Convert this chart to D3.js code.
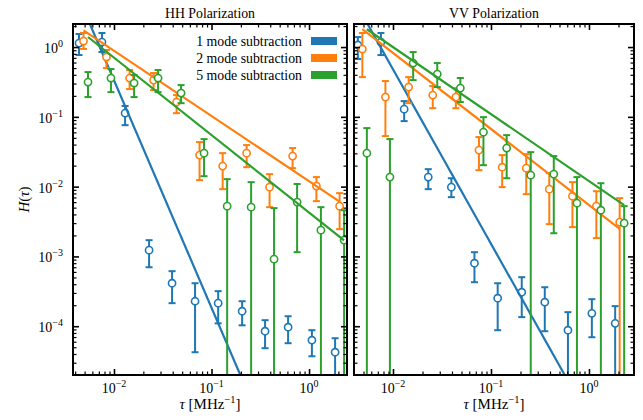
<!DOCTYPE html>
<html>
<head>
<meta charset="utf-8">
<script src="https://cdn.jsdelivr.net/npm/d3@7"></script>
<style>
  body { margin: 0; background: #fff; }
  text { font-family: "Liberation Serif", "Times New Roman", serif; fill: #000; }
</style>
</head>
<body>
<svg id="chart" width="643" height="420"></svg>
<script>
// delay bins [MHz^-1]
const tau = [0.00438, 0.00753, 0.0130, 0.0229, 0.0394, 0.0678, 0.117, 0.206, 0.354, 0.610, 1.07, 1.85];

const FLOOR = 1e-7; // error bars that run off the bottom

// HH polarization
const hhOne   = [1.14, 1.18, 0.113, 0.00123, 4.13e-4, 2.28e-4, 2.14e-4, 1.64e-4, 8.48e-5, 9.68e-5, 6.30e-5, 4.24e-5];
const hhOneHi = [1.54, 1.59, 0.143, 0.00171, 6.15e-4, 4.13e-4, 3.18e-4, 2.28e-4, 1.22e-4, 1.39e-4, 8.77e-5, 6.73e-5];
const hhOneLo = [0.77, 0.85, 0.076, 0.00070, 2.14e-4, 4.24e-5, 1.10e-4, 1.03e-4, 4.84e-5, 5.71e-5, 3.71e-5, FLOOR];

const hhTwo   = [1.22, 0.72, 0.36, 0.336, 0.163, 0.0283, 0.0197, 0.0302, 0.00984, 0.0274, 0.0102, 0.00525];
const hhTwoHi = [1.59, 0.906, 0.468, 0.424, 0.205, 0.0435, 0.0302, 0.0394, 0.0151, 0.0357, 0.0137, 0.00807];
const hhTwoLo = [0.94, 0.50, 0.25, 0.242, 0.113, 0.0124, 0.0092, 0.019, 0.00508, 0.0184, 0.0062, 0.00246];

const hhFive   = [0.315, 0.36, 0.305, 0.36, 0.219, 0.0302, 0.00525, 0.00508, 9.14e-4, 0.0060, 0.00238, 0.00171];
const hhFiveHi = [0.438, 0.484, 0.397, 0.468, 0.285, 0.048, 0.0128, 0.0116, 0.00492, 0.0109, 0.00508, 0.0046];
const hhFiveLo = [0.192, 0.226, 0.192, 0.226, 0.157, 0.0141, FLOOR, FLOOR, FLOOR, 0.00115, FLOOR, FLOOR];

// VV polarization
const vvOne   = [1.07, 1.18, 0.129, 0.0137, 0.00984, 8.0e-4, 2.52e-4, 3.07e-4, 2.21e-4, 8.77e-5, 1.53e-4, 1.10e-4];
const vvOneHi = [1.39, 1.59, 0.168, 0.0178, 0.0132, 0.00115, 4.13e-4, 5.04e-4, 3.62e-4, 1.59e-4, 2.44e-4, 1.94e-4];
const vvOneLo = [0.673, 0.768, 0.0869, 0.0092, 0.00707, 4.27e-4, 8.77e-5, 1.35e-4, 8.48e-5, FLOOR, 6.95e-5, FLOOR];

const vvTwo   = [0.936, 0.192, 0.267, 0.205, 0.192, 0.0334, 0.019, 0.0184, 0.0092, 0.0073, 0.00525, 0.0031];
const vvTwoHi = [1.59, 0.326, 0.371, 0.276, 0.258, 0.0513, 0.0283, 0.0292, 0.0156, 0.0116, 0.0086, 0.00684];
const vvTwoLo = [0.371, 0.053, 0.157, 0.133, 0.133, 0.0172, 0.00984, 0.0078, 0.0029, 0.00263, 0.00183, FLOOR];

const vvFive   = [0.0302, 0.0137, 0.59, 0.41, 0.258, 0.0604, 0.0357, 0.0146, 0.0151, 0.0058, 0.0046, 0.0030];
const vvFiveHi = [0.069, 0.048, 0.848, 0.59, 0.36, 0.099, 0.0547, 0.0312, 0.0274, 0.0137, 0.0112, 0.00525];
const vvFiveLo = [FLOOR, FLOOR, 0.336, 0.267, 0.163, 0.0203, 0.0132, FLOOR, 0.00215, FLOOR, FLOOR, FLOOR];

// power-law fits H = amp * tau^index, for 1, 2, 5 modes
const hhFitAmp   = [1.01e-7, 0.01084, 0.00336];
const hhFitIndex = [-3.26, -0.934, -1.11];
const vvFitAmp   = [4.8e-6, 0.00485, 0.0098];
const vvFitIndex = [-2.5, -1.09, -0.96];

const modeLabels = ['1 mode subtraction', '2 mode subtraction', '5 mode subtraction'];
const colors = ['#1f77b4', '#ff7f0e', '#2ca02c'];
const dodge = [0, 4.5, 9];

const svg = d3.select('#chart');
const yTop = 24, yBottom = 375;
const y = d3.scaleLog().domain([2.0e-5, 2.14]).range([yBottom, yTop]);

const panels = [
  { title: 'HH Polarization', x0: 73, x1: 347, xlim: [0.0038, 2.45],
    mean: [hhOne, hhTwo, hhFive], hi: [hhOneHi, hhTwoHi, hhFiveHi], lo: [hhOneLo, hhTwoLo, hhFiveLo],
    amp: hhFitAmp, index: hhFitIndex, yLabels: true, legend: true },
  { title: 'VV Polarization', x0: 354, x1: 634, xlim: [0.0040, 2.88],
    mean: [vvOne, vvTwo, vvFive], hi: [vvOneHi, vvTwoHi, vvFiveHi], lo: [vvOneLo, vvTwoLo, vvFiveLo],
    amp: vvFitAmp, index: vvFitIndex, yLabels: false, legend: false }
];

function minorTicks(domain) {
  const out = [];
  for (let d = -6; d <= 1; d++)
    for (let k = 2; k <= 9; k++) {
      const v = k * Math.pow(10, d);
      if (v > domain[0] && v < domain[1]) out.push(v);
    }
  return out;
}

function powerLabel(sel, exp) {
  sel.text('10').append('tspan')
    .attr('dy', -6).attr('font-size', 10)
    .text(exp === 0 ? '0' : '\u2212' + (-exp));
}

panels.forEach((p, pi) => {
  const x = d3.scaleLog().domain(p.xlim).range([p.x0, p.x1]);
  const g = svg.append('g');
  const clipId = 'clip' + pi;
  svg.append('clipPath').attr('id', clipId)
    .append('rect').attr('x', p.x0).attr('y', yTop).attr('width', p.x1 - p.x0).attr('height', yBottom - yTop);

  const plot = g.append('g').attr('clip-path', `url(#${clipId})`);

  p.mean.forEach((vals, si) => {
    const c = colors[si];
    const sg = plot.append('g');
    const px = tau.map(t => x(t) + dodge[si]);

    // error bars
    vals.forEach((v, i) => {
      const yh = y(p.hi[si][i]), yl = y(p.lo[si][i]);
      sg.append('line').attr('x1', px[i]).attr('x2', px[i]).attr('y1', yh).attr('y2', yl)
        .attr('stroke', c).attr('stroke-width', 2);
      [yh, yl].forEach(yy => sg.append('line')
        .attr('x1', px[i] - 3.5).attr('x2', px[i] + 3.5).attr('y1', yy).attr('y2', yy)
        .attr('stroke', c).attr('stroke-width', 2));
    });
    vals.forEach((v, i) => {
      sg.append('circle').attr('cx', px[i]).attr('cy', y(v)).attr('r', 3.6)
        .attr('fill', '#fff').attr('stroke', c).attr('stroke-width', 1.6);
    });

    // fit line
    const ends = [tau[0], tau[tau.length - 1]];
    sg.append('line')
      .attr('x1', x(ends[0]) + dodge[si]).attr('y1', y(p.amp[si] * Math.pow(ends[0], p.index[si])))
      .attr('x2', x(ends[1]) + dodge[si]).attr('y2', y(p.amp[si] * Math.pow(ends[1], p.index[si])))
      .attr('stroke', c).attr('stroke-width', 2.2);
  });

  // ticks on all four sides, pointing in
  const xMajor = [0.01, 0.1, 1];
  const yMajor = [1e-4, 1e-3, 1e-2, 1e-1, 1];
  const ax = (a, tr, major) => {
    const s = g.append('g').attr('transform', tr).call(a.tickFormat('').tickSizeOuter(0));
    s.select('.domain').remove();
    s.selectAll('line').attr('stroke', '#000').attr('stroke-width', major ? 1.6 : 1.2);
    return s;
  };
  ax(d3.axisBottom(x).tickValues(xMajor).tickSize(-6), `translate(0,${yBottom})`, true);
  ax(d3.axisBottom(x).tickValues(minorTicks(p.xlim)).tickSize(-3.5), `translate(0,${yBottom})`, false);
  ax(d3.axisTop(x).tickValues(xMajor).tickSize(-6), `translate(0,${yTop})`, true);
  ax(d3.axisTop(x).tickValues(minorTicks(p.xlim)).tickSize(-3.5), `translate(0,${yTop})`, false);
  ax(d3.axisLeft(y).tickValues(yMajor).tickSize(-6), `translate(${p.x0},0)`, true);
  ax(d3.axisLeft(y).tickValues(minorTicks(y.domain())).tickSize(-3.5), `translate(${p.x0},0)`, false);
  ax(d3.axisRight(y).tickValues(yMajor).tickSize(-6), `translate(${p.x1},0)`, true);
  ax(d3.axisRight(y).tickValues(minorTicks(y.domain())).tickSize(-3.5), `translate(${p.x1},0)`, false);
  g.selectAll('.tick text').remove();

  xMajor.forEach(v => {
    g.append('text').attr('x', x(v)).attr('y', yBottom + 18).attr('text-anchor', 'middle')
      .attr('font-size', 14).call(powerLabel, Math.round(Math.log10(v)));
  });
  if (p.yLabels) {
    yMajor.forEach(v => {
      g.append('text').attr('x', p.x0 - 10).attr('y', y(v) + 6).attr('text-anchor', 'end')
        .attr('font-size', 14).call(powerLabel, Math.round(Math.log10(v)));
    });
    const yt = g.append('text').attr('transform', `translate(29,${(yTop + yBottom) / 2}) rotate(-90)`)
      .attr('text-anchor', 'middle').attr('font-size', 15);
    yt.append('tspan').attr('font-style', 'italic').text('H');
    yt.append('tspan').text('(');
    yt.append('tspan').attr('font-style', 'italic').text('\u03c4');
    yt.append('tspan').text(')');
  }

  // frame
  g.append('rect').attr('x', p.x0).attr('y', yTop).attr('width', p.x1 - p.x0).attr('height', yBottom - yTop)
    .attr('fill', 'none').attr('stroke', '#000').attr('stroke-width', 2);

  // titles and x label
  const cx = (p.x0 + p.x1) / 2;
  g.append('text').attr('x', cx).attr('y', 17.5).attr('text-anchor', 'middle').attr('font-size', 13.8).text(p.title);
  const xt = g.append('text').attr('x', cx).attr('y', 409).attr('text-anchor', 'middle').attr('font-size', 15);
  xt.append('tspan').attr('font-style', 'italic').text('\u03c4');
  xt.append('tspan').text(' [MHz');
  xt.append('tspan').attr('dy', -6).attr('font-size', 10.5).text('\u22121');
  xt.append('tspan').attr('dy', 6).text(']');

  if (p.legend) {
    modeLabels.forEach((lab, i) => {
      const yy = 41 + i * 17;
      g.append('rect').attr('x', 311).attr('y', yy - 4).attr('width', 26).attr('height', 8).attr('fill', colors[i]);
      g.append('text').attr('x', 302).attr('y', yy + 4.5).attr('text-anchor', 'end').attr('font-size', 13.8).text(lab);
    });
  }
});
</script>
</body>
</html>
